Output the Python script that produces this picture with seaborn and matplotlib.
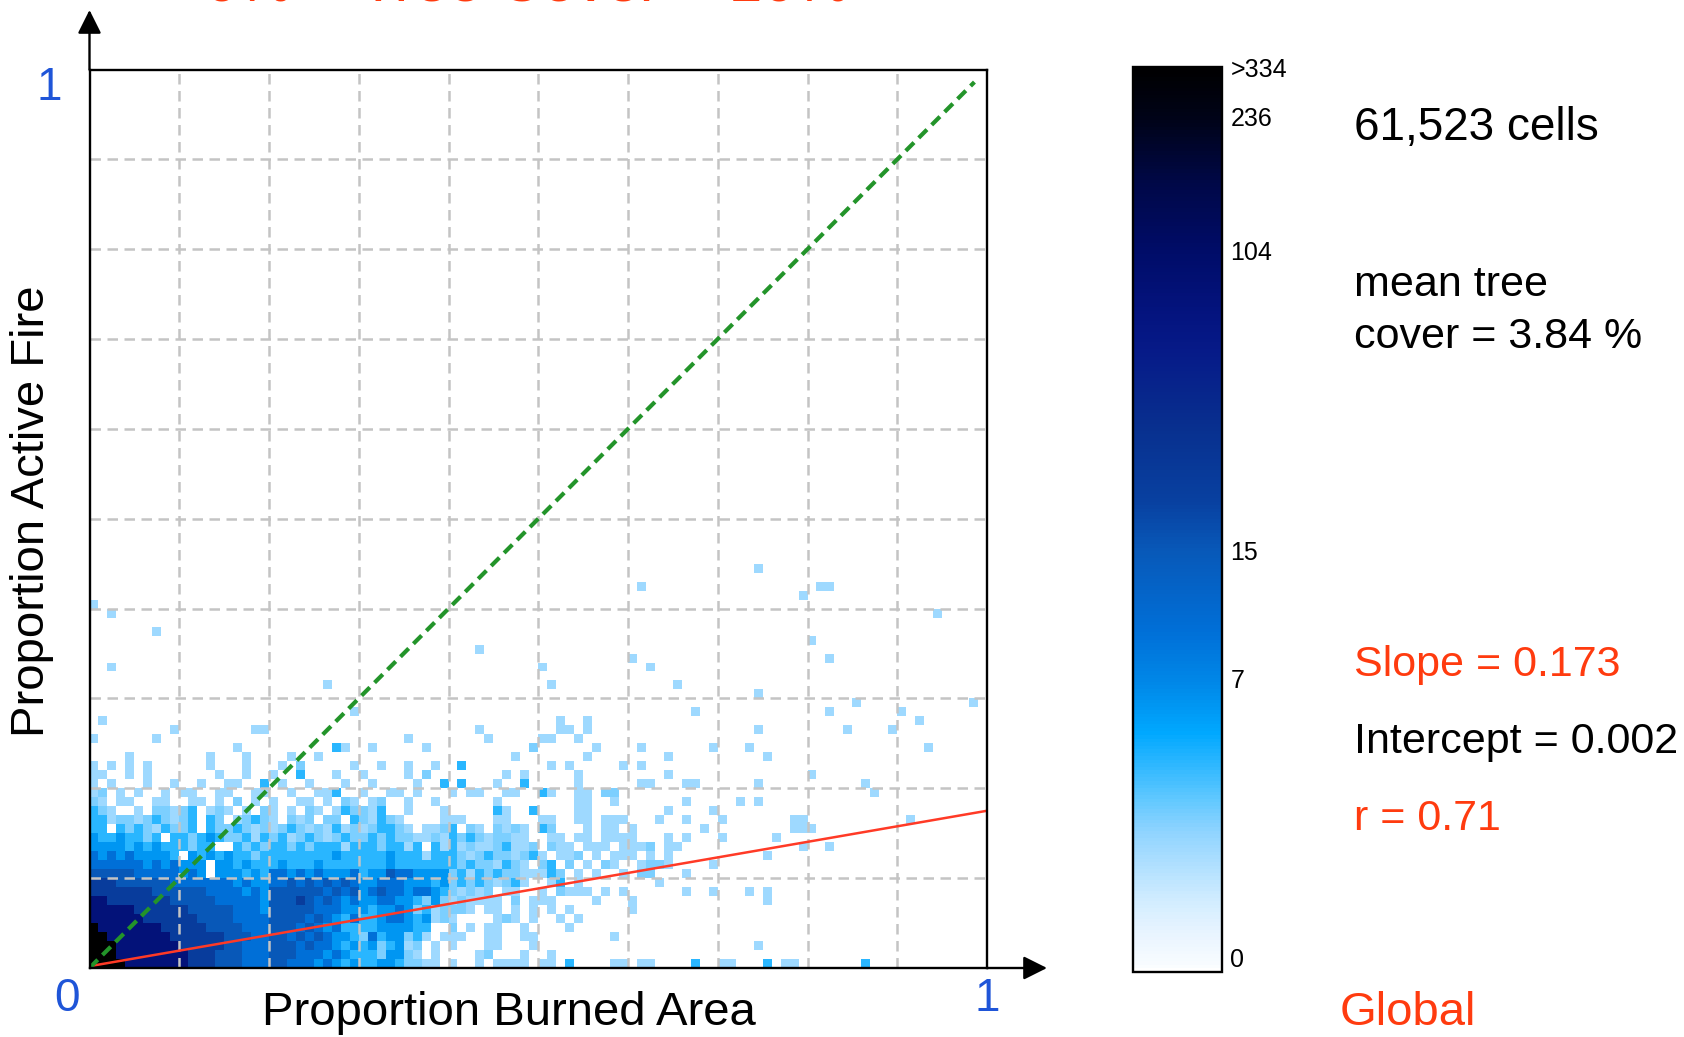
import numpy as np
import pandas as pd
import matplotlib
matplotlib.use("Agg")
import matplotlib.pyplot as plt
import seaborn as sns
from matplotlib.colors import LinearSegmentedColormap, Normalize
from matplotlib.cm import ScalarMappable

# ---------------- data ----------------
n_bins = 100
# colour level digit -> cell count
level_counts = [0, 1, 2, 4, 6, 10, 16, 35, 90, 350]

# dense part of the 2-D histogram, row 0 = bottom (proportion active fire 0-0.01)
dense_rows = [
    "9999888888 8777666555 6655545434 3344322110 1001011110 1103000011 0110000300 1100030110 0000003000 0000000000",
    "9998888888 8777666555 6665554543 3324421010 0001200010 0100000000 0000000000 0000000000 0000000000 0000000000",
    "9998888888 7777766555 6665655434 3423412010 1000110001 0000000000 0000000000 0000100000 0000000000 0000000000",
    "9988888887 7777766655 6656565443 2534423101 1100110011 0000000010 0000000000 0000000000 0000000000 0000000000",
    "9888888877 7776666555 6665654533 3344443300 2010110010 0001000000 0000000000 0000000000 0000000000 0000000000",
    "8888887777 7766665555 6666565435 3345543412 1000012101 0010100000 0000000000 0000000000 0000000000 0000000000",
    "8888877777 7666665554 6666655544 4344542312 2210110101 0101000000 1000000000 0000000000 0000000000 0000000000",
    "8877777776 6666555554 6667656545 4455443242 1211110201 1100001000 1000000000 0000010000 0000000000 0000000000",
    "7777777666 6665555454 6666665656 4565545543 2121201100 1021110101 0000001001 0001010000 0000000000 0000000000",
    "7776666665 5555554544 5565656565 4455544434 2323212310 0130100000 0001000000 0000000000 0000000000 0000000000",
    "6666655555 4540444343 5545454445 3446554444 2313232211 1320101001 0220001000 0000000000 0000000000 0000000000",
    "5555554545 4440443433 3433343333 3334333333 3232213210 2302010210 0122100001 0000000000 0000000000 0000000000",
    "5454544443 0434343323 3333333433 3334333133 3212322123 1011201011 1010100000 0000010000 0000000000 0000000000",
    "4444343433 3233003232 3323233313 3323313031 3121123112 0211011101 1120110000 0000000001 0010000000 0000000000",
    "4334332303 3234322313 2312321232 2323221121 3232122110 0110110111 1000101000 1000001000 0000000000 0000000000",
    "3303232132 2303223212 1232121312 1233210112 3021021210 3200010110 1000000010 0000000011 1000000000 0000000000",
    "3312212321 2303201232 1021202203 2132100001 1100011000 1100110111 0001001000 1000000011 0000000000 0100000000",
    "3210010221 2301210102 1010210132 2130010001 0000031003 0000110000 0000100001 0000000000 0000000000 0000000000",
    "2101100110 0110102010 1001101021 0120010010 0000010000 0000110010 0000001000 0010100000 0000000000 0000000000",
    "1201010010 1100110011 0010011300 1001101000 1011001100 3100110220 0000000000 0000000000 0000000100 0000000000",
    "1010001001 0010011003 0100100010 0100001003 0300010030 0000100000 0110001100 0000100000 0000001000 0000000000",
    "1100101000 0000100100 1003000100 1000010200 0000001010 0000100000 0000100000 0000000000 1000000000 0000000000",
    "1010101000 0001000100 0102000001 0010010010 0300000000 0101000001 0100000000 0000000000 0000000000 0000000000",
]

# isolated cells above the dense part: (row, column, level)
outlier_cells = [
    (23, 4, 1), (23, 13, 1), (23, 17, 1), (23, 22, 1), (23, 25, 1), (23, 47, 1), (23, 55, 1), (23, 64, 1), (23, 75, 1),
    (24, 16, 1), (24, 27, 3), (24, 28, 1), (24, 31, 1), (24, 37, 1), (24, 49, 2), (24, 56, 1), (24, 61, 1), (24, 69, 1),
    (24, 73, 1), (24, 93, 1),
    (25, 0, 1), (25, 7, 1), (25, 35, 1), (25, 44, 1), (25, 50, 1), (25, 51, 1), (25, 54, 1),
    (26, 9, 1), (26, 18, 1), (26, 19, 1), (26, 43, 1), (26, 52, 1), (26, 53, 1), (26, 55, 1), (26, 74, 1), (26, 84, 1),
    (26, 89, 1),
    (27, 1, 1), (27, 52, 1), (27, 55, 1), (27, 92, 1),
    (28, 29, 1), (28, 67, 1), (28, 82, 1), (28, 90, 1),
    (29, 85, 1), (29, 98, 1),
    (30, 74, 1),
    (31, 26, 1), (31, 51, 1), (31, 65, 1),
    (33, 2, 1), (33, 50, 1), (33, 62, 1),
    (34, 60, 1), (34, 82, 1),
    (35, 43, 1),
    (36, 80, 1),
    (37, 7, 1),
    (39, 2, 1), (39, 94, 1),
    (40, 0, 1),
    (41, 79, 1),
    (42, 61, 1), (42, 81, 1), (42, 82, 1),
    (44, 74, 1),
]

# non-linear colour scale (count -> position on colour bar)
scale_counts = [0, 1, 7, 15, 104, 236, 334]
scale_fracs = [0.0155, 0.14, 0.324, 0.465, 0.797, 0.945, 0.9987]
cbar_tick_counts = [0, 7, 15, 104, 236, 334]
cbar_tick_labels = ["0", "7", "15", "104", "236", ">334"]

slope = 0.173
intercept = 0.002
r_value = 0.71
n_cells_text = "61,523 cells"
mean_tree_cover = 3.84
title_text = "0% < Tree Cover < 10%"
region_text = "Global"

# ---------------- styling ----------------
sns.set_theme(style="white")
plt.rcParams["font.family"] = ["Liberation Sans", "DejaVu Sans"]
plt.rcParams["text.color"] = "black"

cmap = LinearSegmentedColormap.from_list("firebar", [
    (0.0, "#ffffff"), (0.0055, "#f8fcff"), (0.042, "#e8f4ff"), (0.079, "#d0ecff"),
    (0.116, "#b0e0ff"), (0.153, "#90d4ff"), (0.19, "#60c8ff"), (0.226, "#30b8ff"),
    (0.263, "#00a8ff"), (0.318, "#0088e8"), (0.374, "#0070d8"), (0.466, "#0858b8"),
    (0.521, "#0840a0"), (0.60, "#08308f"), (0.686, "#061a88"), (0.723, "#041480"),
    (0.797, "#000c68"), (0.871, "#000848"), (0.944, "#000318"), (1.0, "#000000"),
])

W, H = 1684, 1037
def fx(px):
    return px / W
def fy(py):
    return 1 - py / H

# ---------------- grid ----------------
grid = np.zeros((n_bins, n_bins))
for j, s in enumerate(dense_rows):
    s = s.replace(" ", "")
    for i, ch in enumerate(s):
        grid[j, i] = level_counts[int(ch)]
for r, c, lv in outlier_cells:
    grid[r, c] = level_counts[lv]
frac = np.interp(grid, scale_counts, scale_fracs)
df = pd.DataFrame(frac)
mask = grid == 0

fig = plt.figure(figsize=(W / 100, H / 100), dpi=100)
ax = fig.add_axes([fx(89.5), fy(968), fx(987) - fx(89.5), fy(69.5) - fy(968)])
sns.heatmap(df, mask=mask, cmap=cmap, vmin=0, vmax=1, cbar=False, ax=ax,
            xticklabels=False, yticklabels=False, linewidths=0)
ax.set_xlim(0, n_bins)
ax.set_ylim(0, n_bins)
ax.set_xlabel("")
ax.set_ylabel("")
ax.tick_params(length=0)
for s in ax.spines.values():
    s.set_visible(True)
    s.set_color("black")
    s.set_linewidth(1.7)
    s.set_zorder(10)

for v in range(10, 100, 10):
    ax.axvline(v, color="#c4c4c4", lw=1.8, ls=(0, (4.2, 2.6)), zorder=3)
    ax.axhline(v, color="#c4c4c4", lw=1.8, ls=(0, (4.2, 2.6)), zorder=3)

ax.plot([0, 98.6], [0, 98.6], color="#23942a", lw=3.0, ls=(0, (2.8, 1.6)), zorder=6)
xs = np.array([0.0, 100.0])
ax.plot(xs, 100 * (intercept + slope * xs / 100), color="#ff3a26", lw=1.8, zorder=5)

# axis arrows
ax.annotate("", xy=(0, 1 + 59.5 / 898.5), xytext=(0, 1), xycoords="axes fraction",
            arrowprops=dict(arrowstyle="-|>", mutation_scale=36, lw=1.7, color="black",
                            shrinkA=0, shrinkB=0), annotation_clip=False)
ax.annotate("", xy=(1 + 60 / 897.5, 0), xytext=(1, 0), xycoords="axes fraction",
            arrowprops=dict(arrowstyle="-|>", mutation_scale=36, lw=1.7, color="black",
                            shrinkA=0, shrinkB=0), annotation_clip=False)

# colour bar
cax = fig.add_axes([fx(1133), fy(972), fx(1222) - fx(1133), fy(66.5) - fy(972)])
cb = fig.colorbar(ScalarMappable(norm=Normalize(0, 1), cmap=cmap), cax=cax)
cb.set_ticks(np.interp(cbar_tick_counts, scale_counts, scale_fracs))
cb.set_ticklabels(cbar_tick_labels)
cb.ax.tick_params(length=0, pad=6, labelsize=18, colors="black")
cb.outline.set_linewidth(1.7)
cb.outline.set_edgecolor("black")

# texts
red = "#ff3b0f"
blue = "#1f55d8"
fig.text(fx(527), fy(1.5), title_text, color=red, fontsize=43.5, ha="center", va="baseline")
fig.text(fx(509), fy(1013), "Proportion Burned Area", fontsize=34, ha="center", va="center")
fig.text(fx(32), fy(511), "Proportion Active Fire", fontsize=34, ha="center", va="center", rotation=90)
fig.text(fx(49), fy(88), "1", color=blue, fontsize=33, ha="center", va="center")
fig.text(fx(67), fy(999), "0", color=blue, fontsize=33, ha="center", va="center")
fig.text(fx(987), fy(999), "1", color=blue, fontsize=33, ha="center", va="center")

tx = fx(1354)
fig.text(tx, fy(128), n_cells_text, fontsize=33, ha="left", va="center")
fig.text(tx, fy(285), "mean tree", fontsize=31, ha="left", va="center")
fig.text(tx, fy(337), f"cover = {mean_tree_cover:.2f} %", fontsize=31, ha="left", va="center")
fig.text(tx, fy(665), f"Slope = {slope:.3f}", color=red, fontsize=31, ha="left", va="center")
fig.text(tx, fy(742), f"Intercept = {intercept:.3f}", fontsize=31, ha="left", va="center")
fig.text(tx, fy(819), f"r = {r_value:.2f}", color=red, fontsize=31, ha="left", va="center")
fig.text(fx(1340), fy(1013), region_text, color=red, fontsize=34, ha="left", va="center")

fig.savefig("out.png", dpi=100, facecolor="white")
